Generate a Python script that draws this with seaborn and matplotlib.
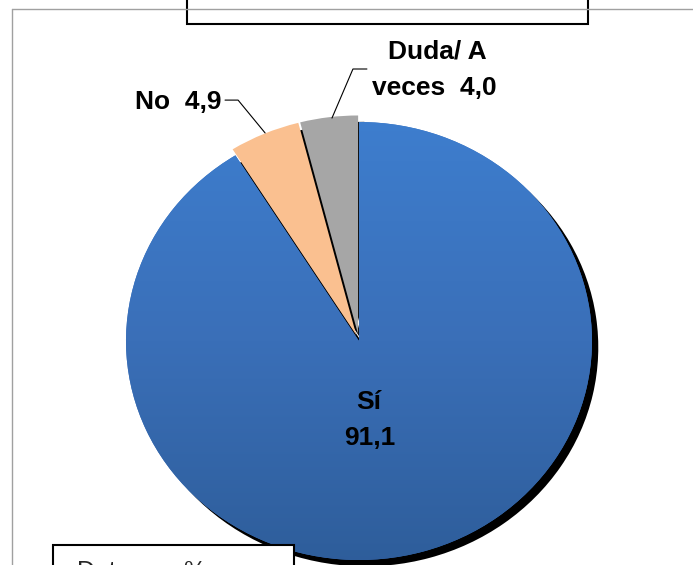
#! /usr/bin/env python3

# libraries
import matplotlib.pyplot as plt
import numpy as np
import seaborn as sns
from matplotlib.colors import LinearSegmentedColormap
from matplotlib.patches import Rectangle

sns.set_style("white")
plt.rcParams["font.family"] = ["Liberation Sans", "DejaVu Sans"]

# data (percent)
labels = ["Sí", "No", "Duda/ A\nveces"]
values = [91.1, 4.9, 4.0]
value_text = ["91,1", "4,9", "4,0"]
colors = ["#3a72c0", "#fac090", "#a6a6a6"]
explode = [0.0, 0.03, 0.03]

fig = plt.figure(figsize=(6.93, 5.65), dpi=100)
ax = fig.add_axes([0, 0, 1, 1])

# black shadow behind the pie
ax.pie(
    values,
    explode=explode,
    colors=["black"] * 3,
    startangle=90,
    counterclock=False,
    center=(0.027, -0.029),
    wedgeprops={"zorder": 1, "linewidth": 0},
)
wedges, _ = ax.pie(
    values,
    explode=explode,
    colors=colors,
    startangle=90,
    counterclock=False,
    wedgeprops={"zorder": 2, "linewidth": 0},
)

# vertical gradient on the big slice
cmap = LinearSegmentedColormap.from_list("blu", ["#2d5c98", "#3a6fb8", "#3e7fd0"])
grad = np.linspace(0, 1, 256).reshape(-1, 1)
img = ax.imshow(
    grad,
    extent=(-1.1, 1.1, -1.1, 1.1),
    origin="lower",
    cmap=cmap,
    aspect="auto",
    zorder=3,
)
img.set_clip_path(wedges[0])

# labels
lab_kw = dict(fontsize=19, fontweight="bold", color="black", zorder=5)
ax.text(0.043, -0.28, labels[0], ha="center", va="center", **lab_kw)
ax.text(0.047, -0.445, value_text[0], ha="center", va="center", **lab_kw)
ax.text(-0.588, 1.091, labels[1] + "  " + value_text[1], ha="right", va="center", **lab_kw)
dl = labels[2].split("\n")
ax.text(0.335, 1.32, dl[0], ha="center", va="center", **lab_kw)
ax.text(0.322, 1.155, dl[1] + "  " + value_text[2], ha="center", va="center", **lab_kw)

# leader lines
ax.plot([-0.575, -0.519, -0.403], [1.100, 1.100, 0.950], color="black", lw=0.8, zorder=5)
ax.plot([0.034, -0.026, -0.116], [1.242, 1.242, 1.018], color="black", lw=0.8, zorder=5)

ax.set_aspect("auto")
ax.set_xlim(-359 / 233, (693 - 359) / 233)
ax.set_ylim(-224 / 219, 341 / 219)
ax.axis("off")

# chart frame (top + left edges visible)
fig.add_artist(plt.Line2D([12 / 693, 1], [1 - 9 / 565] * 2, color="#a0a0a0", lw=1))
fig.add_artist(plt.Line2D([12 / 693] * 2, [0, 1 - 9 / 565], color="#a0a0a0", lw=1))

# empty title box at top
fig.add_artist(
    Rectangle(
        (187 / 693, 1 - 24 / 565),
        401 / 693,
        0.1,
        facecolor="white",
        edgecolor="black",
        lw=1.5,
        transform=fig.transFigure,
    )
)

# note box at bottom left
fig.add_artist(
    Rectangle(
        (53 / 693, -0.1),
        241 / 693,
        0.1 + 20 / 565,
        facecolor="white",
        edgecolor="black",
        lw=1.5,
        transform=fig.transFigure,
    )
)
fig.text(77 / 693, -14 / 565, "Datos en %", fontsize=18, ha="left", va="baseline")

fig.savefig("out.png", dpi=100)
